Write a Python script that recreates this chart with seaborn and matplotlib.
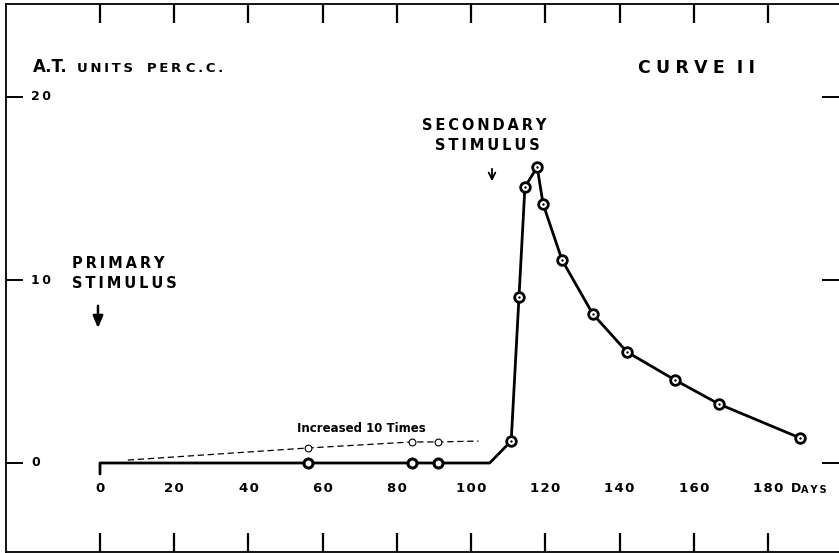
import matplotlib
matplotlib.use("Agg")
import matplotlib.pyplot as plt
import seaborn as sns
import pandas as pd

# ---- data ----
# main curve (solid): antitoxin units per c.c. vs days
main_days = [0, 0, 56, 84, 91, 105, 110.8, 112.9, 114.5, 117.8, 119.4, 124.5, 132.8, 142.0, 154.9, 166.8, 188.6]
main_vals = [-0.6, 0, 0, 0, 0, 0, 1.2, 9.07, 15.08, 16.17, 14.15, 11.09, 8.14, 6.07, 4.54, 3.22, 1.37]
# which points carry a circle marker
base_mark_days = [56, 84, 91]
base_mark_vals = [0, 0, 0]
peak_mark_days = [110.8, 112.9, 114.5, 117.8, 119.4, 124.5, 132.8, 142.0, 154.9, 166.8, 188.6]
peak_mark_vals = [1.2, 9.07, 15.08, 16.17, 14.15, 11.09, 8.14, 6.07, 4.54, 3.22, 1.37]
# early values increased 10 times (dashed)
x10_days = [7.5, 56, 84, 91, 102]
x10_vals = [0.16, 0.82, 1.15, 1.15, 1.2]
x10_mark_days = [56, 84, 91]
x10_mark_vals = [0.82, 1.15, 1.15]

x_ticks = [0, 20, 40, 60, 80, 100, 120, 140, 160, 180]
x_tick_labels = ["0", "20", "40", "60", "80", "100", "120", "140", "160", "180"]
y_ticks = [0, 10, 20]
y_tick_labels = ["0", "10", "20"]

sns.set_theme(style="white")
plt.rcParams["font.family"] = ["DejaVu Sans"]

W, H = 839, 553
fig = plt.figure(figsize=(W / 100, H / 100), dpi=100)
fig.patch.set_linewidth(0)
# pixel geometry of the frame
left_px, top_px, bot_px, right_px = 6, 4, 552, 839
ax = fig.add_axes([left_px / W, (H - bot_px) / H, (right_px - left_px) / W, (bot_px - top_px) / H])
ax.patch.set_visible(False)

# scale: x=0 at px 100, 180 at px 768; y=0 at px 463, 20 at px 97
xs = (768 - 100) / 180.0
ys = (463 - 97) / 20.0
ax.set_xlim((left_px - 100) / xs, (right_px - 100) / xs)
ax.set_ylim(-(bot_px - 463) / ys, (463 - top_px) / ys)

# curves
main_df = pd.DataFrame({"day": main_days, "val": main_vals})
sns.lineplot(data=main_df, x="day", y="val", sort=False, estimator=None,
             color="black", lw=2.0, ax=ax, zorder=2)
x10_df = pd.DataFrame({"day": x10_days, "val": x10_vals})
sns.lineplot(data=x10_df, x="day", y="val", sort=False, estimator=None,
             color="black", lw=0.9, ax=ax, zorder=2)
ax.lines[-1].set_dashes([5, 3])

sns.scatterplot(x=base_mark_days, y=base_mark_vals, s=42, marker="o",
                facecolor="white", edgecolor="black", linewidth=2.2, ax=ax, zorder=3)
sns.scatterplot(x=peak_mark_days, y=peak_mark_vals, s=48, marker="o",
                facecolor="white", edgecolor="black", linewidth=2.0, ax=ax, zorder=3)
sns.scatterplot(x=peak_mark_days, y=peak_mark_vals, s=3, marker="o",
                color="black", linewidth=0, ax=ax, zorder=4)
sns.scatterplot(x=x10_mark_days, y=x10_mark_vals, s=24, marker="o",
                facecolor="white", edgecolor="black", linewidth=0.8, ax=ax, zorder=3)

ax.set_xticks(x_ticks)
ax.set_yticks(y_ticks)
ax.tick_params(axis="x", which="major", direction="in", top=True, bottom=True,
               length=14, width=1.6, color="black", labelbottom=False, labeltop=False)
ax.tick_params(axis="y", which="major", direction="in", left=True, right=True,
               length=12, width=1.4, color="black", labelleft=False, labelright=False)
ax.set_xlabel("")
ax.set_ylabel("")
ax.grid(False)

# frame: left, top, bottom only
for side in ["left", "top", "bottom"]:
    ax.spines[side].set_visible(True)
    ax.spines[side].set_color("black")
    ax.spines[side].set_linewidth(1.3)
ax.spines["right"].set_visible(False)
ax.spines["right"].set_color("none")
ax.spines["right"].set_linewidth(0)

def px2x(px):
    return (px - 100) / xs

def py2y(py):
    return (463 - py) / ys

def spaced(s, sep="\u2009"):
    return sep.join(s)

tk = dict(color="black", fontweight="bold", va="center")
# x tick labels inside
for xv, lab in zip(x_ticks, x_tick_labels):
    ax.text(xv, py2y(488), spaced(lab, "\u200a"), ha="center", fontsize=9.5, **tk)
ax.text(px2x(791), py2y(489), "D", ha="left", fontsize=9, **tk)
ax.text(px2x(801), py2y(490), spaced("AYS"), ha="left", fontsize=7, **tk)
# y tick labels inside
for yv, lab in zip(y_ticks, y_tick_labels):
    ax.text(px2x(31), yv, spaced(lab), ha="left", fontsize=9, **tk)

# titles / annotations
ax.text(px2x(33), py2y(67), "A.T.", ha="left", fontsize=12, **tk)
ax.text(px2x(77), py2y(68), spaced("UNITS") + "   " + spaced("PER") + " " + spaced("C.C."),
        ha="left", fontsize=9.5, **tk)
ax.text(px2x(697), py2y(68), spaced("CURVE", "\u2009\u200a") + "  " + spaced("II", "\u2009\u200a"),
        ha="center", fontsize=12.5, **tk)
ax.text(px2x(484), py2y(125), spaced("SECONDARY"), ha="center", fontsize=10.5, **tk)
ax.text(px2x(487), py2y(146), spaced("STIMULUS"), ha="center", fontsize=10.5, **tk)
ax.text(px2x(72), py2y(264), spaced("PRIMARY"), ha="left", fontsize=10.5, **tk)
ax.text(px2x(72), py2y(283), spaced("STIMULUS"), ha="left", fontsize=10.5, **tk)
ax.text(px2x(361), py2y(428), "Increased 10 Times", ha="center", fontsize=8.5,
        color="black", va="center", fontweight="bold")

# arrows
ax.annotate("", xy=(px2x(98), py2y(331)), xytext=(px2x(98), py2y(303)),
            arrowprops=dict(arrowstyle="-|>,head_length=0.6,head_width=0.25",
                            color="black", lw=1.8))
ax.annotate("", xy=(px2x(492), py2y(184)), xytext=(px2x(492), py2y(166)),
            arrowprops=dict(arrowstyle="->,head_length=0.4,head_width=0.2",
                            color="black", lw=1.3))

fig.savefig("out.png", dpi=100, facecolor="white")
